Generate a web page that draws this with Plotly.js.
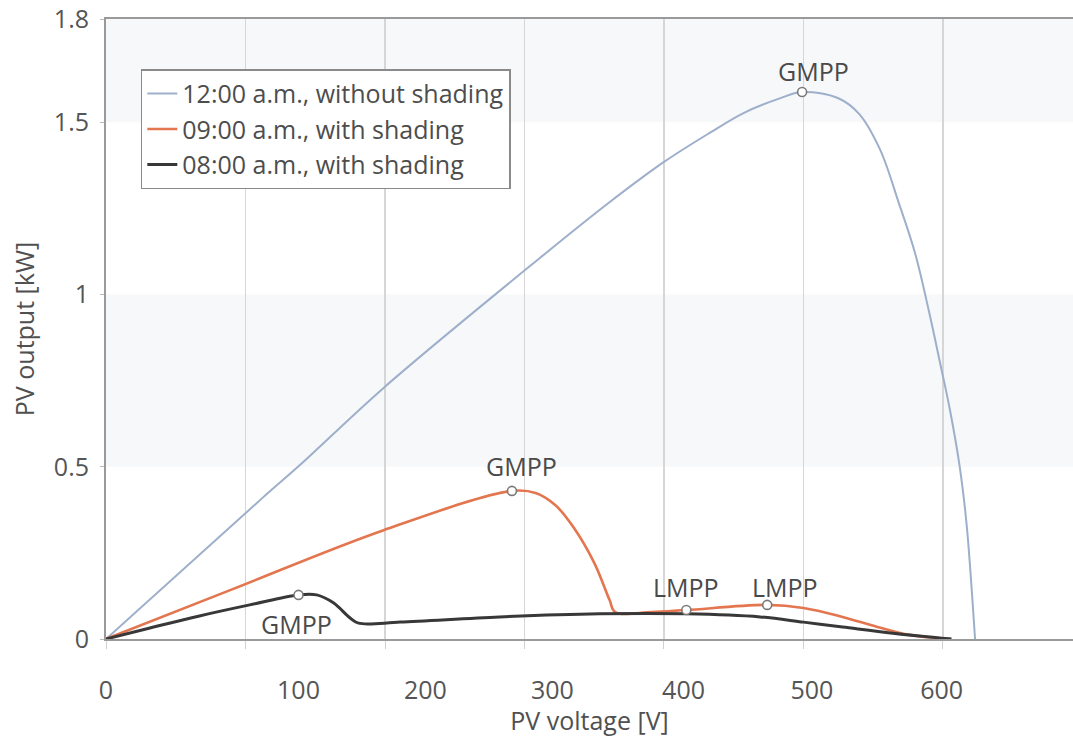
<!DOCTYPE html>
<html>
<head>
<meta charset="utf-8">
<script src="https://cdn.plot.ly/plotly-3.0.1.min.js"></script>
<style>html,body{margin:0;padding:0;background:#fff;}#chart{width:1073px;height:737px;}</style>
</head>
<body>
<div id="chart"></div>
<script>
// ---- data ----
const seriesNames = ['12:00 a.m., without shading', '09:00 a.m., with shading', '08:00 a.m., with shading'];

// 12:00, without shading
const noonVoltage = [0, 112, 139, 199, 311, 360, 400, 433, 457, 482, 499, 525, 540, 555, 568, 580, 590, 598, 605, 612, 617, 621, 623];
const noonPower   = [0, 0.409, 0.505, 0.729, 1.106, 1.265, 1.385, 1.470, 1.527, 1.568, 1.588, 1.570, 1.524, 1.420, 1.270, 1.120, 0.950, 0.800, 0.665, 0.500, 0.330, 0.120, 0];

// 09:00, with shading
const nineVoltage = [0, 89, 199, 291, 308, 322, 335, 350, 361, 365, 391, 416, 474, 500, 528, 553, 576, 606];
const ninePower   = [0, 0.142, 0.316, 0.430, 0.424, 0.389, 0.325, 0.221, 0.113, 0.078, 0.078, 0.084, 0.099, 0.090, 0.064, 0.035, 0.012, 0];

// 08:00, with shading
const eightVoltage = [0, 31.5, 67, 103, 138, 151, 163, 175, 181, 211, 282, 354, 416, 469, 500, 528, 564, 606];
const eightPower   = [0, 0.032, 0.067, 0.099, 0.128, 0.128, 0.105, 0.061, 0.046, 0.049, 0.064, 0.073, 0.073, 0.064, 0.049, 0.035, 0.017, 0];

// maximum power points
const mppVoltage = [499, 291, 138, 416, 474];
const mppPower   = [1.588, 0.430, 0.128, 0.084, 0.099];
const mppLabels  = ['GMPP', 'GMPP', 'GMPP', 'LMPP', 'LMPP'];

// axis ticks
const xTickLabels = ['0', '100', '200', '300', '400', '500', '600'];
const xTickPositions = [0, 138, 229, 320, 414, 506, 599]; // where the reference prints its labels
const yTickValues = [0, 0.5, 1, 1.5, 1.8];
const yTickLabels = ['0', '0.5', '1', '1.5', '1.8'];

// ---- styles ----
const lineColors = ['#9eafcb', '#e3764f', '#383838'];
const lineWidths = [2, 2.6, 3];
const labelShift = [[11, 21], [10, 25], [-2, -29], [0, 23], [18, 18]];

const curves = [[noonVoltage, noonPower], [nineVoltage, ninePower], [eightVoltage, eightPower]];
const traces = curves.map((c, i) => ({
  type: 'scatter', mode: 'lines', name: seriesNames[i],
  x: c[0], y: c[1],
  line: {color: lineColors[i], width: lineWidths[i], shape: 'spline', smoothing: 1}
}));
traces.push({
  type: 'scatter', mode: 'markers', showlegend: false,
  x: mppVoltage, y: mppPower,
  marker: {symbol: 'circle', size: 9, color: '#ffffff', line: {color: '#7a7a7a', width: 1.6}}
});

const annotations = mppLabels.map((t, i) => ({
  x: mppVoltage[i], y: mppPower[i], xref: 'x', yref: 'y', text: t, showarrow: false,
  xshift: labelShift[i][0], yshift: labelShift[i][1],
  font: {size: 25, color: '#4a4a4a', family: 'Open Sans, sans-serif'}
}));

const bandColor = '#f6f8fa';
const shapes = [
  {type: 'rect', xref: 'paper', x0: 0, x1: 1, yref: 'y', y0: 0.5, y1: 1.0, fillcolor: bandColor, line: {width: 0}, layer: 'below'},
  {type: 'rect', xref: 'paper', x0: 0, x1: 1, yref: 'y', y0: 1.5, y1: 1.8, fillcolor: bandColor, line: {width: 0}, layer: 'below'}
];

const layout = {
  width: 1073, height: 737,
  margin: {l: 106, r: 0, t: 19, b: 98},
  paper_bgcolor: '#ffffff', plot_bgcolor: '#ffffff',
  font: {family: 'Open Sans, sans-serif', color: '#505050', size: 24},
  showlegend: true,
  legend: {
    x: 0.036, y: 0.919, xanchor: 'left', yanchor: 'top',
    bgcolor: '#ffffff', bordercolor: '#8a8a8a', borderwidth: 1.5,
    font: {size: 25, color: '#4d4d4d'}
  },
  xaxis: {
    range: [0, 693.2], automargin: false,
    showline: true, mirror: true, linecolor: '#9a9a9a', linewidth: 2,
    showgrid: false, zeroline: false,
    tickmode: 'array', tickvals: xTickPositions, ticktext: xTickLabels,
    ticks: '', ticklabelstandoff: 28,
    tickfont: {size: 25, color: '#555555'},
    minor: {tickmode: 'linear', tick0: 0, dtick: 100, showgrid: true, gridcolor: '#d6d6d6', gridwidth: 1.3,
            ticks: 'outside', ticklen: 8, tickcolor: '#d0d0d0'},
    title: {text: 'PV voltage [V]', font: {size: 25, color: '#505050'}, standoff: 6}
  },
  yaxis: {
    range: [0, 1.8], automargin: false,
    showline: true, linecolor: '#9a9a9a', linewidth: 2,
    showgrid: false, zeroline: false,
    tickmode: 'array', tickvals: yTickValues, ticktext: yTickLabels,
    ticks: 'outside', ticklen: 4, tickcolor: '#bbbbbb',
    ticklabelstandoff: 6,
    tickfont: {size: 25, color: '#555555'},
    title: {text: 'PV output [kW]', font: {size: 25, color: '#505050'}, standoff: 12}
  },
  shapes: shapes,
  annotations: annotations
};

Plotly.newPlot('chart', traces, layout, {displayModeBar: false, staticPlot: true});
</script>
</body>
</html>
